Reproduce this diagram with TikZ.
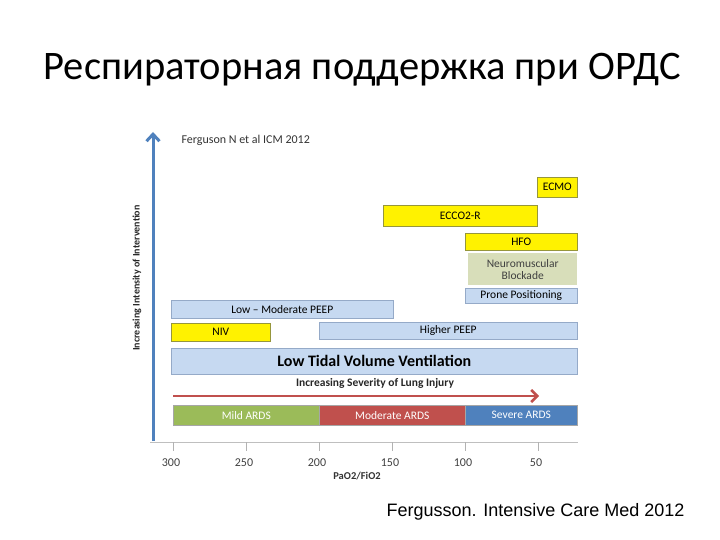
\documentclass[tikz,border=0pt]{standalone}
\usepackage{fontspec}
\setmainfont{Carlito}
\newfontfamily\arialfont{Liberation Sans}
\usetikzlibrary{positioning,calc,arrows.meta}
\definecolor{offblue}{RGB}{79,129,189}
\definecolor{offred}{RGB}{192,80,77}
\definecolor{offgreen}{RGB}{155,187,89}
\definecolor{paleblue}{RGB}{198,217,241}
\definecolor{paleedge}{RGB}{149,170,200}
\definecolor{nmbfill}{RGB}{216,222,186}
\definecolor{yedge}{RGB}{150,150,60}

\begin{document}
\begin{tikzpicture}[x=1pt,y=-1pt,
  box/.style={anchor=north west,inner sep=0pt,font=\fontsize{11.5}{12}\selectfont},
  ybox/.style={box,fill=yellow,draw=yedge,line width=0.6pt},
  bbox/.style={box,fill=paleblue,draw=paleedge,line width=0.6pt},
  sbox/.style={box,draw=black!35,line width=0.6pt,text=white},
  ticklbl/.style={font=\fontsize{12}{13}\selectfont,text=black!75}]
\useasboundingbox (0,0) rectangle (720,540);
% Title
\node (title) at (362,70) {\fontsize{40.5}{42}\selectfont Респираторная поддержка при ОРДС};
\node[anchor=west,font=\fontsize{12}{13}\selectfont,text=black!80] (ref) at (178,140) {Ferguson N et al ICM 2012};
% Vertical axis arrow
\coordinate (ybot) at (153,441);
\coordinate (ytop) at (153,132);
\draw[offblue,line width=3pt,-{Straight Barb[length=7pt,width=13pt]}] (ybot) -- (ytop);
\node[rotate=90,font=\bfseries\fontsize{10}{11}\selectfont,text=black!85] (ylbl) at (137,278) {Increasing Intensity of Intervention};
% Interventions
\node[ybox,minimum width=40,minimum height=20] (ecmo) at (537,177) {ECMO};
\node[ybox,minimum width=154,minimum height=21] (ecco) at (383,205) {ECCO2-R};
\node[ybox,minimum width=112,minimum height=17] (hfo) at (465,233) {HFO};
\node[box,fill=nmbfill,minimum width=109,minimum height=32,align=center,
      text=black!75,font=\fontsize{11.5}{11}\selectfont] (nmb) at (468,253) {Neuromuscular\\[1pt]Blockade};
\node[bbox,minimum width=112,minimum height=15] (prone) at (465,288) {Prone Positioning};
\node[bbox,minimum width=222,minimum height=18] (lowpeep) at (171,300) {Low -- Moderate PEEP};
\node[ybox,minimum width=99,minimum height=18] (niv) at (171,323) {NIV};
\node[bbox,minimum width=258,minimum height=17] (highpeep) at (319,322) {Higher PEEP};
\node[bbox,minimum width=406,minimum height=26,
      font=\bfseries\fontsize{16}{17}\selectfont] (ltvv) at (171,348) {Low Tidal Volume Ventilation};
% Severity
\node[font=\bfseries\fontsize{11.5}{12}\selectfont,text=black!85] (sev) at (375,383) {Increasing Severity of Lung Injury};
\coordinate (rleft) at (173,396);
\coordinate (rright) at (539,396);
\draw[offred,line width=2.5pt,-{Straight Barb[length=6pt,width=12pt]}] (rleft) -- (rright);
\node[sbox,fill=offgreen,minimum width=146,minimum height=20] (mild) at (173,405) {Mild ARDS};
\node[sbox,fill=offred,minimum width=146,minimum height=20] (moderate) at (319,405) {Moderate ARDS};
\node[sbox,fill=offblue,minimum width=112,minimum height=20] (severe) at (465,405) {Severe ARDS};
% Horizontal axis
\coordinate (xleft) at (150,442);
\coordinate (xright) at (578,442);
\draw[black!25,line width=0.8pt] (xleft) -- (xright);
\foreach \v in {300,250,200,150,100,50}{
  \coordinate (t\v) at ({173+(300-\v)*1.46},442);
  \draw[black!30,line width=0.8pt] (t\v) -- ++(0,9);
  \node[ticklbl] (l\v) at ($(t\v)+(-2,21)$) {\v};
}
\node[font=\bfseries\fontsize{10.5}{11}\selectfont,text=black!80] (xlbl) at (357,476) {PaO2/FiO2};
% Source
\node[anchor=east,font=\arialfont\fontsize{18}{19}\selectfont] (src) at (688,512) {Fergusson. Intensive Care Med 2012};
\end{tikzpicture}
\end{document}
